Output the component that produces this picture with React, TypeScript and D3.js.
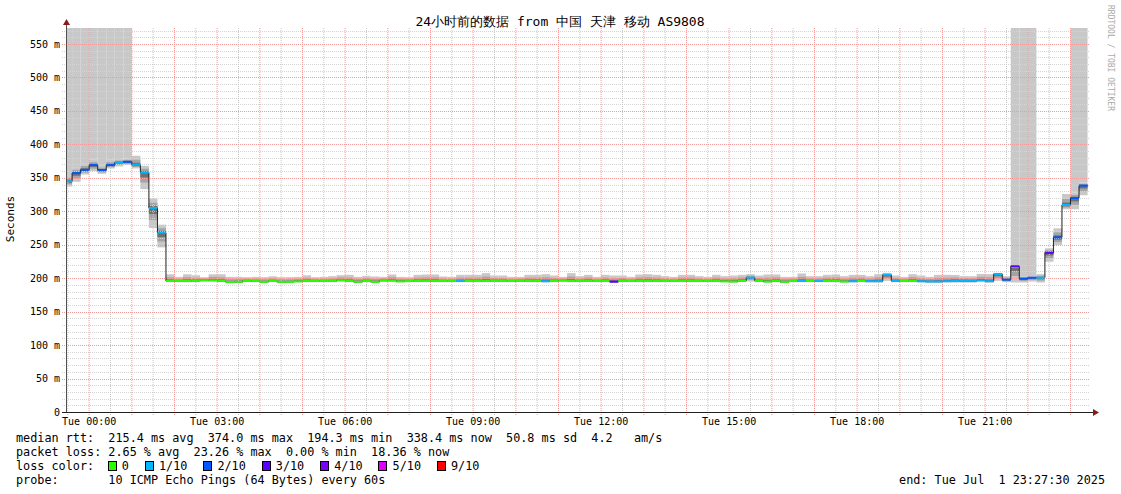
import React from 'react';
import * as d3 from 'd3';

// 24h SmokePing graph, 12 minute consolidation steps
const startTime = new Date(2025, 5, 30, 23, 27, 30);
const endTime = new Date(2025, 6, 1, 23, 27, 30);
const firstStepEnd = new Date(2025, 5, 30, 23, 36, 0);
const stepMinutes = 12;

// median rtt per step (ms)
const median = [
  345, 357, 362, 369, 361.5, 369, 373, 374, 369.5, 358, 305, 268,
  195.8, 195.8, 195.8, 195.8, 197, 196.8, 195.8, 194.3, 194.6, 196.2,
  195.8, 194.6, 195.8, 194.6, 194.6, 195.2, 195.8, 195.8, 195.8, 195.8,
  197, 195.8, 194.6, 195.8, 194.6, 196.5, 196.5, 195.2, 195.8, 195.8,
  195.8, 195.8, 195.8, 195.8, 195.8, 195.8, 195.8, 195.8, 195.8, 195.8,
  195.8, 196.2, 195.8, 195.8, 195.5, 195.8, 196.5, 195.8, 195.8, 196.2,
  195.8, 195.8, 194.8, 195.8, 195.8, 195.8, 195.8, 195.8, 195.8, 195.8,
  195.8, 195.8, 195.8, 195.8, 195.8, 195.2, 195.0, 196.2, 200.8, 196.2,
  195.0, 196.0, 194.6, 195.8, 195.8, 195.8, 195.8, 195.8, 195.8, 195.0,
  195.5, 195.8, 195.5, 195.5, 205, 196, 195.8, 195.8, 195.5, 195.0,
  195.0, 195.5, 196.3, 196.2, 196.0, 196.7, 195.5, 206, 197.8, 217.7,
  199.3, 200.7, 200.7, 238, 261, 309.4, 319.8, 338.4,
];

// lowest / highest ping per step (ms)
const smokeLo = [
  337, 344, 355, 360, 356, 364, 367, 369, 364, 333, 275, 246,
  194, 194, 193.8, 194, 195, 195, 194, 193, 193.2, 194.5,
  194, 193.2, 194, 193.2, 193.2, 193.8, 194, 194, 194, 194,
  195, 194, 193.2, 194, 193.2, 194.5, 194.5, 193.8, 194, 194,
  194, 194, 194, 194, 194, 194, 194, 194, 194, 194,
  194, 194.5, 194, 194, 193.6, 194, 194.5, 194, 194, 194.5,
  194, 194, 193.2, 194, 194, 194, 194, 194, 194, 194,
  194, 194, 194, 194, 194, 193.8, 193.5, 194.5, 195, 194.5,
  193.5, 194.2, 193.2, 194, 194, 194, 194, 194, 194, 193.5,
  193.5, 194, 193.5, 193.5, 196, 194, 194, 194, 193.5, 193.2,
  193.2, 193.5, 193.3, 193.3, 193.3, 194.8, 193.3, 196, 194, 193.5,
  193.5, 195, 193.5, 224.6, 249.6, 303, 303, 324,
];
const smokeHi = [
  354, 366, 372, 377, 368, 377, 378, 379, 383, 368, 319, 280,
  205.8, 202, 205.8, 204.3, 201.5, 205.8, 205.8, 202, 202, 201.5,
  202, 201.5, 202.8, 201.5, 201.5, 202, 204.3, 201.5, 202, 203,
  204.5, 205, 202, 203.5, 202.5, 202, 205.5, 202, 201.5, 205,
  205.5, 205.5, 202.5, 202, 205, 205, 205, 207.5, 204, 204,
  202, 202, 205, 205, 206, 204, 202, 207.5, 203, 205,
  202, 205, 204, 204, 202, 205.5, 206, 205, 203, 202,
  205, 205, 203, 202, 205, 203, 204, 205, 206, 204,
  205.5, 205.5, 202, 202, 207, 203, 203, 205, 205.5, 203,
  205, 205, 203, 206, 208, 204, 202, 206, 204, 202,
  205, 205, 204.8, 203, 203, 206.3, 206, 208, 203, 208,
  203, 203, 206, 244.6, 274.5, 325.8, 328, 343,
];
// pings lost / above the graph range in this step
const offscale = [
  1, 1, 1, 1, 1, 1, 1, 1, 0, 0, 0, 0,
  0, 0, 0, 0, 0, 0, 0, 0, 0, 0, 0, 0, 0, 0, 0, 0, 0, 0, 0, 0,
  0, 0, 0, 0, 0, 0, 0, 0, 0, 0, 0, 0, 0, 0, 0, 0, 0, 0, 0, 0,
  0, 0, 0, 0, 0, 0, 0, 0, 0, 0, 0, 0, 0, 0, 0, 0, 0, 0, 0, 0,
  0, 0, 0, 0, 0, 0, 0, 0, 0, 0, 0, 0, 0, 0, 0, 0, 0, 0, 0, 0,
  0, 0, 0, 0, 0, 0, 0, 0, 0, 0, 0, 0, 0, 0, 0, 0, 0, 0, 0, 1,
  1, 1, 0, 0, 0, 0, 1, 1,
];
// lost pings out of 10
const lossTenths = [
  1, 2, 2, 2, 2, 2, 1, 2, 1, 1, 1, 1,
  0, 0, 0, 0, 0, 0, 0, 0, 0, 0, 0, 0, 0, 0, 0, 0, 0, 0, 0, 0,
  0, 0, 0, 0, 0, 0, 0, 0, 0, 0, 0, 0, 0, 0, 1, 0, 0, 0, 0, 0,
  0, 0, 0, 0, 1, 0, 0, 0, 0, 0, 0, 0, 3, 0, 0, 0, 0, 0, 0, 0,
  0, 0, 0, 0, 0, 0, 0, 0, 1, 0, 0, 0, 0, 0, 1, 0, 1, 0, 0, 0,
  1, 0, 1, 1, 1, 1, 0, 0, 1, 1, 1, 1, 1, 1, 1, 1, 1, 1, 2, 3,
  2, 2, 1, 3, 2, 1, 2, 2,
];

const lossLevels = [0, 1, 2, 3, 4, 5, 9];
const lossLabels = ['0', '1/10', '2/10', '3/10', '4/10', '5/10', '9/10'];
const lossColors = ['#26ff00', '#00b8ff', '#0059ff', '#5e00ff', '#7e00ff', '#dd00ff', '#ff0000'];

const yTicks = [0, 50, 100, 150, 200, 250, 300, 350, 400, 450, 500, 550];

const title = '24小时前的数据 from 中国 天津 移动 AS9808';
const statLines = [
  'median rtt:  215.4 ms avg  374.0 ms max  194.3 ms min  338.4 ms now  50.8 ms sd  4.2   am/s',
  'packet loss: 2.65 % avg  23.26 % max  0.00 % min  18.36 % now',
];
const probeLine = 'probe:       10 ICMP Echo Pings (64 Bytes) every 60s';
const endLine = 'end: Tue Jul  1 23:27:30 2025';

const MONO = '"DejaVu Sans Mono", monospace';

export default function App() {
  const width = 1121;
  const height = 494;
  const x = d3.scaleTime().domain([startTime, endTime]).range([66.05, 1090.05]);
  const y = d3.scaleLinear().domain([0, 550]).range([412, 44]);
  const plotTop = 28;
  const plotLeft = x(startTime);
  const plotRight = x(endTime);

  const steps = median.map((m, i) => {
    const t1 = d3.timeMinute.offset(firstStepEnd, i * stepMinutes);
    const t0 = d3.timeMinute.offset(t1, -stepMinutes);
    const x0 = Math.max(x(t0), plotLeft);
    const x1 = x(t1);
    const lo = smokeLo[i];
    const hi = smokeHi[i];
    const lvl = lossLevels.findIndex((l) => lossTenths[i] <= l);
    return { i, m, lo, hi, x0, x1, color: lossColors[lvl] };
  });

  const linePts: [number, number][] = [];
  steps.forEach((s) => {
    linePts.push([s.x0, y(s.m)]);
    linePts.push([s.x1, y(s.m)]);
  });
  const medianPath = d3.line()(linePts) || '';

  const minorY = d3.range(10, 580, 10).filter((v) => v % 50 !== 0 && y(v) >= plotTop);
  const majorY = yTicks.filter((v) => v > 0);
  const halfHours = d3.timeMinute.every(30)!.range(startTime, endTime).filter((d) => d.getMinutes() === 30);
  const hours = d3.timeHour.range(startTime, endTime);
  const labelHours = d3.timeHour.every(3)!.range(startTime, endTime);
  const fmt = d3.timeFormat('%a %H:%M');
  const px = (v: number) => Math.round(v) + 0.5;

  const cw = 7.05;
  const legendX = 16;
  let cursor = legendX + 13 * cw;
  const lossItems = lossLabels.map((lab, k) => {
    const sx = cursor;
    cursor = sx + (lab.length + 4) * cw + 2;
    return { lab, color: lossColors[k], sx, tx: sx + 2 * cw };
  });

  return (
    <svg width={width} height={height} style={{ position: 'absolute', left: 0, top: 0, background: '#fff' }}
      fontFamily={MONO}>
      <rect x={0} y={0} width={width} height={height} fill="#fff" />

      {/* smoke */}
      {steps.map((s) => {
        const dUp = s.hi - s.m;
        const dDn = s.m - s.lo;
        return (
          <g key={'s' + s.i}>
            {offscale[s.i] ? (
              <rect x={s.x0} y={plotTop} width={s.x1 - s.x0} height={y(s.hi) - plotTop} fill="#c8c8c8" />
            ) : null}
            <rect x={s.x0} y={y(s.hi)} width={s.x1 - s.x0} height={y(s.lo) - y(s.hi)} fill="#c8c8c8" />
            <rect x={s.x0} y={y(s.m + dUp * 0.55)} width={s.x1 - s.x0}
              height={y(s.m - dDn * 0.6) - y(s.m + dUp * 0.55)} fill="#a4a4a4" />
            <rect x={s.x0} y={y(s.m + dUp * 0.22)} width={s.x1 - s.x0}
              height={y(s.m - dDn * 0.3) - y(s.m + dUp * 0.22)} fill="#707070" />
          </g>
        );
      })}

      {/* grid: half-hour minor, hourly major (only every third lands on a whole pixel) */}
      <g strokeWidth={1} strokeDasharray="1,1" fill="none">
        {minorY.map((v) => (
          <line key={'my' + v} x1={62} x2={plotRight} y1={px(y(v))} y2={px(y(v))} stroke="#d4d4d4" />
        ))}
        {halfHours.map((d) => (
          <line key={'mx' + d.getTime()} x1={x(d)} x2={x(d)} y1={plotTop} y2={415} stroke="#c8c8c8" />
        ))}
        {majorY.map((v) => (
          <line key={'My' + v} x1={62} x2={plotRight} y1={px(y(v))} y2={px(y(v))} stroke="#f29a9a" />
        ))}
        {hours.map((d) => (
          <line key={'Mx' + d.getTime()} x1={x(d)} x2={x(d)} y1={plotTop} y2={415} stroke="#f29a9a" />
        ))}
      </g>

      {/* median line and loss colour */}
      <path d={medianPath} fill="none" stroke="#202020" strokeWidth={1} />
      {steps.map((s) => (
        <rect key={'m' + s.i} x={s.x0} y={y(s.m) - 1} width={s.x1 - s.x0} height={2} fill={s.color} />
      ))}

      {/* axes */}
      <line x1={px(plotLeft)} x2={px(plotLeft)} y1={412} y2={23} stroke="#505050" />
      <line x1={62} x2={1094} y1={412.5} y2={412.5} stroke="#202020" />
      <path d={`M${px(plotLeft) - 3.5},25 L${px(plotLeft) + 3.5},25 L${px(plotLeft)},19 Z`} fill="#8b1a1a" />
      <path d={`M1093,409 L1093,416 L1099,412.5 Z`} fill="#8b1a1a" />

      {/* y tick labels */}
      {yTicks.map((v) => (
        <text key={'yl' + v} x={60} y={y(v) + 3.5} fontSize={10} textAnchor="end" fill="#000">
          {v === 0 ? '0' : `${v} m`}
        </text>
      ))}
      <text transform="translate(14,219) rotate(-90)" fontSize={11} textAnchor="middle" fill="#000">Seconds</text>

      {/* x tick labels */}
      {labelHours.map((d) => (
        <text key={'xl' + d.getTime()} x={x(d)} y={425} fontSize={10} textAnchor="middle" fill="#000">
          {fmt(d)}
        </text>
      ))}

      <text x={560} y={26} fontSize={13} textAnchor="middle" fill="#000">{title}</text>
      <text transform="translate(1108,5) rotate(90)" fontSize={8} fill="#aaaaaa">RRDTOOL / TOBI OETIKER</text>

      {/* legend */}
      <g fontSize={11.8} fill="#000" style={{ whiteSpace: 'pre' }}>
        {statLines.map((l, k) => (
          <text key={'st' + k} x={legendX} y={442 + k * 14} xmlSpace="preserve">{l}</text>
        ))}
        <text x={legendX} y={470}>loss color:</text>
        {lossItems.map((it) => (
          <g key={'li' + it.lab}>
            <rect x={Math.round(it.sx) + 0.5} y={461.5} width={8} height={9} fill={it.color} stroke="#000" />
            <text x={it.tx} y={470}>{it.lab}</text>
          </g>
        ))}
        <text x={legendX} y={484} xmlSpace="preserve">{probeLine}</text>
        <text x={1105} y={484} textAnchor="end" xmlSpace="preserve">{endLine}</text>
      </g>
    </svg>
  );
}
